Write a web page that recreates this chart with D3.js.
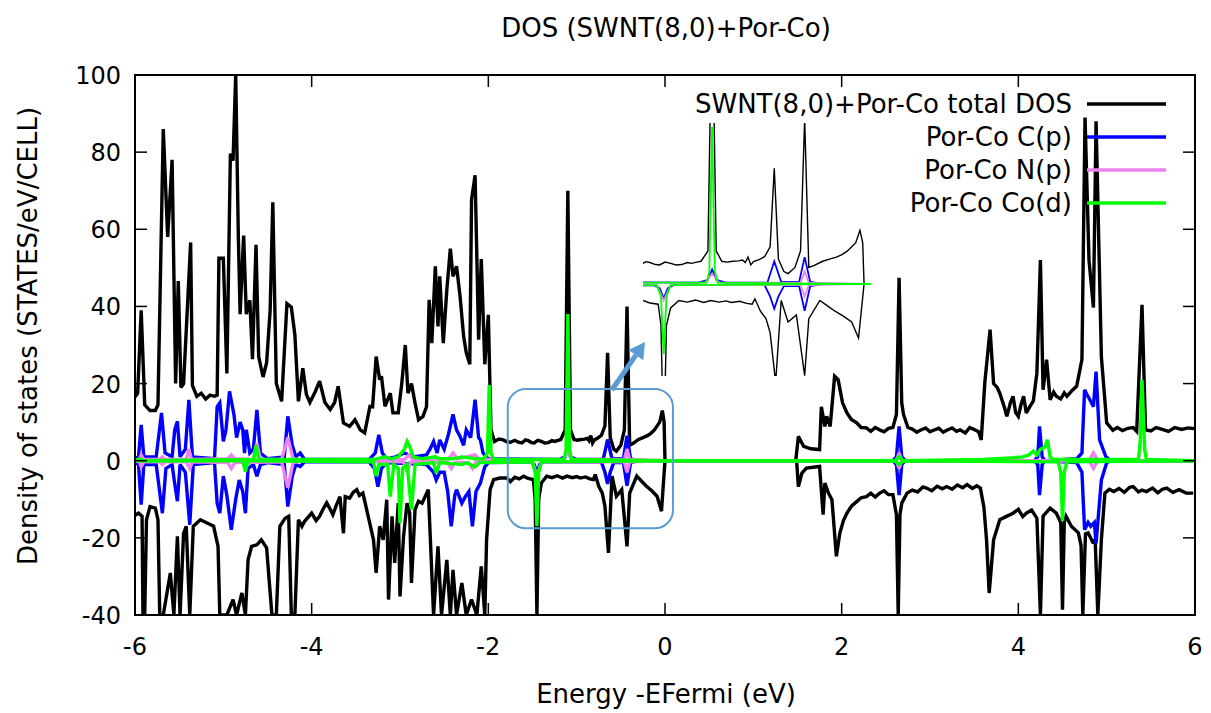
<!DOCTYPE html>
<html><head><meta charset="utf-8">
<script src="https://cdn.jsdelivr.net/npm/d3@7"></script>
<style>
body{margin:0;background:#fff;}
text{font-family:"DejaVu Sans",sans-serif;fill:#000;}
</style></head>
<body><svg id="c" width="1211" height="713"></svg>
<script>
const title = "DOS (SWNT(8,0)+Por-Co)";
const xLabel = "Energy -EFermi (eV)";
const yLabel = "Density of states (STATES/eV/CELL)";
const xTicks = [-6,-4,-2,0,2,4,6];
const yTicks = [-40,-20,0,20,40,60,80,100];
const seriesNames = ["SWNT(8,0)+Por-Co total DOS","Por-Co C(p)","Por-Co N(p)","Por-Co Co(d)"];
const seriesColors = ["#000000","#0000ff","#ee82ee","#00ff00"];

const totalUp = [[-6.00,16.5],[-5.97,17.5],[-5.93,39],[-5.89,14.5],[-5.83,13],[-5.77,13],[-5.74,14.5],[-5.68,86],[-5.63,58],[-5.58,78],[-5.54,20],[-5.51,46.6],[-5.48,19],[-5.45,20],[-5.37,56.6],[-5.35,19.5],[-5.30,16.7],[-5.25,17.5],[-5.20,16],[-5.15,17],[-5.10,16.7],[-5.07,17],[-5.05,52.5],[-5.00,52.5],[-4.96,22.6],[-4.92,79.6],[-4.89,77.8],[-4.86,100],[-4.83,58],[-4.81,38],[-4.77,58.4],[-4.74,38],[-4.70,41.6],[-4.67,26.3],[-4.63,56],[-4.60,27],[-4.55,21.7],[-4.51,25.4],[-4.47,39],[-4.44,67],[-4.40,20],[-4.34,15.4],[-4.28,40.7],[-4.23,39.8],[-4.19,32.6],[-4.15,15.4],[-4.10,24],[-4.06,17.2],[-4.02,15.1],[-3.96,17.9],[-3.91,20.6],[-3.85,15.1],[-3.79,13.3],[-3.74,15.1],[-3.70,19.3],[-3.64,9.8],[-3.57,8.9],[-3.51,10.6],[-3.45,8],[-3.40,7.2],[-3.34,14.1],[-3.31,14],[-3.27,27],[-3.23,21],[-3.21,21.9],[-3.17,14.1],[-3.11,17.5],[-3.08,12.4],[-3.02,12.4],[-2.98,20],[-2.94,30],[-2.91,17.5],[-2.87,20],[-2.83,15],[-2.79,10.6],[-2.74,11.5],[-2.70,14],[-2.67,41.7],[-2.64,30.5],[-2.60,50.4],[-2.57,34.8],[-2.55,47.8],[-2.51,30.5],[-2.47,44.3],[-2.43,55],[-2.40,47.8],[-2.36,50.4],[-2.32,42.6],[-2.28,32.3],[-2.25,28],[-2.21,25],[-2.19,67.7],[-2.15,74],[-2.11,31.4],[-2.08,52.3],[-2.04,25],[-2.00,37.8],[-1.97,8],[-1.93,5],[-1.88,5.6],[-1.83,5.4],[-1.79,4.9],[-1.75,4.8],[-1.70,5.3],[-1.66,4.8],[-1.62,4.6],[-1.58,5.4],[-1.55,5.2],[-1.51,4.7],[-1.48,4.6],[-1.44,5.3],[-1.40,5],[-1.36,4.6],[-1.32,4.7],[-1.28,5.2],[-1.25,5],[-1.21,5.3],[-1.18,5.5],[-1.13,8],[-1.10,70],[-1.07,8],[-1.03,5.5],[-0.99,5.3],[-0.95,5.5],[-0.91,5.6],[-0.88,5.8],[-0.86,5.2],[-0.84,6.5],[-0.82,4.6],[-0.80,5.4],[-0.76,5.9],[-0.72,6.6],[-0.68,9],[-0.65,28],[-0.62,6],[-0.58,3],[-0.55,2.5],[-0.50,4],[-0.46,8],[-0.43,40],[-0.40,4],[-0.36,4.5],[-0.30,5.5],[-0.25,6],[-0.20,6.5],[-0.16,7.1],[-0.12,8],[-0.06,10],[-0.03,13],[-0.01,10],[0.00,0],[1.48,0],[1.51,6.3],[1.57,3.7],[1.65,3.1],[1.75,2.9],[1.77,14],[1.81,8.9],[1.83,11.5],[1.87,8.9],[1.92,21.9],[1.96,21],[2.01,15],[2.06,12.4],[2.11,10.7],[2.17,9.8],[2.22,8.6],[2.28,8.5],[2.33,7.6],[2.38,8.6],[2.43,8],[2.48,7.5],[2.53,8.4],[2.58,8.6],[2.62,12],[2.65,47.4],[2.68,15],[2.70,12],[2.75,8.6],[2.80,8.2],[2.85,7.4],[2.89,7.9],[2.95,8.5],[3.00,7.5],[3.04,7.9],[3.10,8.4],[3.15,7.4],[3.19,7.9],[3.25,8.5],[3.30,7.6],[3.34,8],[3.40,7.2],[3.45,8.6],[3.49,8.2],[3.55,7.5],[3.58,5.4],[3.62,20.1],[3.68,34],[3.72,20],[3.76,19],[3.79,17.5],[3.84,14],[3.87,11.5],[3.91,15],[3.94,16.7],[3.97,12.5],[4.00,11.5],[4.03,14.5],[4.06,16.7],[4.09,12.4],[4.13,14],[4.17,15.5],[4.21,22.7],[4.25,52],[4.28,18.4],[4.32,26.2],[4.36,15.8],[4.40,17.8],[4.43,16.7],[4.48,16],[4.52,17.6],[4.55,16.7],[4.60,18],[4.66,19.3],[4.72,26.2],[4.755,89],[4.80,52],[4.85,39.7],[4.88,88],[4.94,27],[5.00,9.8],[5.07,7.9],[5.12,8.6],[5.18,7.8],[5.24,8.4],[5.30,8.6],[5.34,7.6],[5.40,40.4],[5.44,8],[5.50,7.7],[5.56,8.6],[5.62,8.2],[5.70,7.6],[5.77,8.6],[5.85,8.1],[5.92,8.5],[6.00,8.3]];

const totalDown = [[-6.02,-14.4],[-5.96,-13.6],[-5.92,-14.4],[-5.91,-40],[-5.89,-40],[-5.87,-15.3],[-5.83,-11.9],[-5.77,-12.3],[-5.74,-15.3],[-5.72,-40],[-5.68,-40],[-5.60,-29.1],[-5.56,-40],[-5.52,-19.6],[-5.49,-40],[-5.45,-18.8],[-5.42,-17],[-5.38,-40],[-5.34,-17],[-5.26,-15.3],[-5.19,-16.1],[-5.11,-17],[-5.06,-22.2],[-5.04,-40],[-4.96,-40],[-4.89,-36],[-4.85,-40],[-4.79,-34.3],[-4.75,-40],[-4.72,-25.7],[-4.68,-22.2],[-4.62,-21.8],[-4.57,-20.5],[-4.51,-22.6],[-4.45,-40],[-4.40,-40],[-4.36,-17],[-4.30,-14.9],[-4.26,-14.4],[-4.23,-40],[-4.19,-40],[-4.15,-15.3],[-4.11,-17],[-4.08,-15.7],[-4.00,-13.6],[-3.95,-15.5],[-3.91,-14.4],[-3.87,-12.5],[-3.83,-10.9],[-3.79,-12.6],[-3.76,-14],[-3.72,-11.5],[-3.68,-9.3],[-3.64,-18.8],[-3.62,-9.3],[-3.57,-9.7],[-3.53,-8.2],[-3.49,-7.5],[-3.46,-9],[-3.42,-8.4],[-3.36,-14.4],[-3.30,-20.5],[-3.27,-29.1],[-3.23,-17],[-3.19,-20.5],[-3.15,-10.1],[-3.13,-36],[-3.09,-14.4],[-3.06,-26.5],[-3.02,-11],[-3.00,-35.2],[-2.96,-19.6],[-2.92,-11],[-2.89,-13.6],[-2.87,-31.7],[-2.83,-12.7],[-2.79,-10.5],[-2.75,-11],[-2.71,-9],[-2.68,-7.5],[-2.62,-40],[-2.57,-22.2],[-2.53,-40],[-2.47,-25.7],[-2.43,-40],[-2.40,-28.3],[-2.36,-40],[-2.30,-31.7],[-2.25,-40],[-2.19,-36],[-2.13,-40],[-2.08,-27.4],[-2.04,-40],[-2.02,-20.5],[-1.98,-7.5],[-1.94,-4.9],[-1.87,-4.5],[-1.79,-4.5],[-1.75,-5.4],[-1.70,-4.3],[-1.65,-4.7],[-1.60,-4],[-1.55,-4.6],[-1.49,-4.9],[-1.47,-10],[-1.45,-40],[-1.43,-10],[-1.40,-5.8],[-1.34,-4],[-1.28,-4.4],[-1.22,-3.9],[-1.16,-4.5],[-1.11,-4],[-1.05,-4.4],[-1.00,-4.1],[-0.96,-4.5],[-0.90,-4.2],[-0.85,-4.7],[-0.81,-4.9],[-0.79,-3.6],[-0.75,-6.6],[-0.71,-8.4],[-0.68,-11.8],[-0.64,-23.9],[-0.60,-4],[-0.55,-9.2],[-0.49,-7.5],[-0.43,-22.2],[-0.40,-8.4],[-0.32,-4],[-0.27,-5.2],[-0.21,-6.6],[-0.15,-7.8],[-0.09,-9.2],[-0.04,-13.1],[0.00,0],[1.49,0],[1.51,-6.7],[1.55,-3.2],[1.60,-1.9],[1.75,-1.5],[1.79,-14],[1.81,-5.8],[1.85,-8.4],[1.89,-10.1],[1.94,-24.8],[1.98,-18.7],[2.02,-15.5],[2.06,-13.6],[2.11,-11.8],[2.17,-10.6],[2.22,-9.6],[2.28,-9.3],[2.33,-8.4],[2.38,-9.4],[2.43,-8.4],[2.48,-7.8],[2.53,-8.8],[2.58,-8.8],[2.62,-14],[2.64,-40],[2.66,-14],[2.68,-11],[2.74,-8.4],[2.80,-7.6],[2.86,-8.1],[2.92,-6.8],[2.96,-7.1],[3.02,-7.8],[3.08,-6.6],[3.14,-7.3],[3.19,-6.7],[3.25,-7.4],[3.31,-6.3],[3.37,-7],[3.42,-6.2],[3.48,-7.2],[3.53,-6.5],[3.57,-7.1],[3.61,-12],[3.64,-20.5],[3.67,-34.3],[3.72,-20.5],[3.79,-15.3],[3.86,-14.5],[3.94,-13.6],[4.00,-12.6],[4.05,-14.5],[4.09,-13.6],[4.15,-12.8],[4.21,-14.9],[4.25,-40],[4.28,-14.4],[4.36,-12.3],[4.43,-13.6],[4.48,-16],[4.50,-38.6],[4.52,-16],[4.54,-14.4],[4.60,-17],[4.68,-18.7],[4.71,-22],[4.73,-40],[4.76,-19],[4.79,-18.7],[4.84,-21],[4.87,-20.5],[4.90,-40],[4.94,-20.5],[4.98,-8.4],[5.03,-7.4],[5.08,-8],[5.14,-7.2],[5.20,-8.2],[5.26,-6.9],[5.30,-6.7],[5.36,-8.1],[5.40,-7.6],[5.45,-8],[5.52,-7.1],[5.58,-8.3],[5.63,-7.4],[5.68,-7.1],[5.75,-8.2],[5.82,-7.5],[5.90,-8.4],[5.98,-8.4]];

const cpUp = [[-6.0,0.5],[-5.96,1],[-5.93,9.3],[-5.90,1],[-5.76,1],[-5.70,12.4],[-5.66,2],[-5.58,1],[-5.55,8],[-5.52,10.2],[-5.49,1],[-5.43,3],[-5.39,15.8],[-5.35,1],[-5.10,0.5],[-5.07,14],[-5.04,15],[-5.00,5],[-4.97,8],[-4.93,18],[-4.88,12],[-4.85,6],[-4.81,10],[-4.78,8],[-4.76,2],[-4.74,8],[-4.70,2],[-4.66,3],[-4.62,13.2],[-4.58,2],[-4.50,0.5],[-4.31,1],[-4.27,11.5],[-4.22,4],[-4.18,1],[-4.13,2],[-4.08,0.3],[-3.35,0.3],[-3.28,2],[-3.24,6.7],[-3.20,2],[-3.15,0.5],[-3.05,1],[-2.95,2],[-2.85,1],[-2.70,1.5],[-2.66,3],[-2.62,5],[-2.58,2],[-2.55,5.4],[-2.50,3],[-2.45,7],[-2.40,12],[-2.36,8],[-2.32,6.3],[-2.28,4],[-2.25,8],[-2.20,6],[-2.15,15.8],[-2.11,6],[-2.09,5.4],[-2.06,2],[-2.00,0.5],[-1.20,0.3],[-1.13,1],[-1.10,3.5],[-1.07,1],[-1.00,0.3],[-0.70,0.3],[-0.65,5.5],[-0.60,0.5],[-0.47,0.5],[-0.43,6.5],[-0.39,0.5],[-0.30,0],[2.58,0],[2.62,1],[2.65,8.9],[2.68,1],[2.72,0],[4.18,0],[4.22,1],[4.24,8.9],[4.27,1],[4.30,0],[4.66,0.5],[4.72,2],[4.75,18.4],[4.78,17],[4.81,15.8],[4.85,14],[4.88,23.1],[4.92,5.4],[4.99,1.1],[5.05,0],[6.0,0]];

const cpDown = [[-6.0,-0.5],[-5.96,-1],[-5.93,-11.4],[-5.90,-1],[-5.76,-1],[-5.69,-13.6],[-5.65,-2],[-5.58,-1],[-5.55,-6],[-5.52,-10.5],[-5.49,-1],[-5.43,-3],[-5.38,-16.6],[-5.34,-1],[-5.10,-0.5],[-5.07,-11],[-5.04,-13.6],[-5.00,-4],[-4.96,-9],[-4.91,-17.9],[-4.86,-10],[-4.82,-5],[-4.78,-8],[-4.75,-13.6],[-4.72,-2],[-4.66,-1],[-4.62,-4],[-4.58,-1],[-4.50,-0.5],[-4.31,-1],[-4.27,-11.9],[-4.22,-4],[-4.18,-1],[-4.13,-1.5],[-4.08,-0.3],[-3.35,-0.3],[-3.29,-2],[-3.25,-6.7],[-3.21,-2],[-3.15,-0.5],[-2.70,-1],[-2.62,-3],[-2.59,-5],[-2.55,-3],[-2.50,-3],[-2.46,-8],[-2.42,-17],[-2.38,-9],[-2.36,-7.5],[-2.30,-11],[-2.26,-9.3],[-2.22,-8],[-2.18,-17],[-2.14,-8],[-2.09,-5.8],[-2.04,-1.6],[-2.00,-0.5],[-1.52,-0.3],[-1.48,-1],[-1.45,-3.5],[-1.42,-1],[-1.38,-0.3],[-0.72,-0.3],[-0.68,-3],[-0.65,-6],[-0.62,-3],[-0.58,-0.5],[-0.47,-0.5],[-0.43,-6.5],[-0.39,-0.5],[-0.30,0],[2.58,0],[2.62,-1],[2.65,-8.9],[2.68,-1],[2.72,0],[4.18,0],[4.22,-1],[4.24,-8.9],[4.27,-1],[4.30,0],[4.66,-0.5],[4.72,-3],[4.75,-17.9],[4.79,-16],[4.82,-17],[4.86,-16],[4.88,-21.4],[4.94,-5],[5.00,-0.5],[5.05,0],[6.0,0]];

const npUp = [[-6,0],[-5.95,0.3],[-5.93,1.5],[-5.90,0.3],[-5.72,0.3],[-5.69,1],[-5.66,0.3],[-5.42,0.3],[-5.39,3],[-5.36,0.3],[-4.95,0.5],[-4.91,1.5],[-4.87,0.5],[-4.66,0.3],[-4.62,4.5],[-4.58,0.3],[-4.34,0.3],[-4.27,6],[-4.21,0.5],[-4.10,0],[-2.95,0.3],[-2.90,1.5],[-2.85,0.3],[-2.45,0.5],[-2.40,2],[-2.35,0.5],[-2.15,1.5],[-2.10,0.3],[-1.15,0.3],[-1.10,2.5],[-1.05,0.3],[-0.46,0.3],[-0.43,3],[-0.40,0.3],[0,0],[2.62,0],[2.65,2],[2.68,0],[4.80,0],[4.85,2],[4.90,0],[6,0]];

const npDown = [[-6,0],[-5.95,-0.3],[-5.93,-1.5],[-5.90,-0.3],[-5.72,-0.3],[-5.69,-1],[-5.66,-0.3],[-5.42,-0.3],[-5.38,-2],[-5.35,-0.3],[-4.95,-0.5],[-4.91,-2],[-4.87,-0.5],[-4.34,-0.3],[-4.27,-7],[-4.21,-0.5],[-4.10,0],[-2.96,-0.3],[-2.92,-3],[-2.88,-0.3],[-2.46,-0.5],[-2.42,-2],[-2.38,-0.5],[-2.22,-0.5],[-2.18,-2],[-2.14,-0.3],[-1.50,-0.3],[-1.45,-4],[-1.40,-0.3],[-0.46,-0.3],[-0.43,-3],[-0.40,-0.3],[0,0],[2.62,0],[2.65,-2],[2.68,0],[4.80,0],[4.85,-2],[4.90,0],[6,0]];

const coUp = [[-6,0],[-5.95,0.5],[-5.90,0],[-4.66,0.3],[-4.63,4],[-4.60,0.3],[-3.30,0.3],[-3.17,1],[-3.10,0.5],[-3.02,1],[-2.95,3],[-2.92,5],[-2.89,3.7],[-2.85,1],[-2.75,0.5],[-2.60,1],[-2.55,0.5],[-2.40,0.5],[-2.30,1],[-2.15,0.5],[-2.05,0.5],[-2.01,2],[-1.99,19.6],[-1.97,2],[-1.94,0.3],[-1.14,0.3],[-1.12,3],[-1.10,38],[-1.08,3],[-1.06,0.3],[0,0],[2.60,0],[2.65,1],[2.70,0],[3.60,0.3],[3.80,0.6],[3.95,0.8],[4.05,1],[4.12,1.5],[4.17,2.5],[4.21,1.5],[4.25,3],[4.30,3.5],[4.33,5.4],[4.36,1],[4.40,0.3],[5.36,0.3],[5.38,5],[5.40,21],[5.43,3],[5.45,0.3],[6,0]];

const coDown = [[-6,0],[-4.78,0],[-4.75,-2.8],[-4.72,0],[-3.30,-0.3],[-3.27,-4],[-3.24,-1],[-3.14,-1],[-3.11,-9.3],[-3.07,-1],[-3.02,-2],[-3.00,-16.2],[-2.97,-2],[-2.92,-1],[-2.87,-12.7],[-2.83,-1],[-2.62,-0.5],[-2.59,-3.2],[-2.55,-0.5],[-2.30,-1],[-2.25,-0.5],[-2.15,-1.6],[-2.10,-0.5],[-1.50,-0.3],[-1.47,-3],[-1.45,-17],[-1.43,-3],[-1.40,-0.3],[0,0],[2.60,0],[2.65,-1],[2.70,0],[4.45,-0.3],[4.48,-3],[4.50,-15.6],[4.52,-3],[4.55,-0.3],[6,0]];

const zoomRange = [-1.78, 0.09];   // energy window of the highlighted box
const zoomValRange = [-17.5, 18.6];
const insetXDomain = [-1.6, 0.04];
const insetYDomain = [-22.3, 39];

const svg = d3.select("#c");
const W = 1211, H = 713;
const P = {l:135, r:1195, t:75, b:615};
const x = d3.scaleLinear().domain([-6,6]).range([P.l,P.r]);
const y = d3.scaleLinear().domain([-40,100]).range([P.b,P.t]);

svg.append("rect").attr("width",W).attr("height",H).attr("fill","#fff");

const defs = svg.append("defs");
defs.append("clipPath").attr("id","plotClip").append("rect")
  .attr("x",P.l).attr("y",P.t).attr("width",P.r-P.l).attr("height",P.b-P.t);

const FS = "26px", TFS = "24px";
// title and labels
svg.append("text").attr("x",666).attr("y",37).attr("text-anchor","middle")
  .style("font-size",FS).text(title);
svg.append("text").attr("x",666).attr("y",703).attr("text-anchor","middle")
  .style("font-size",FS).text(xLabel);
svg.append("text").attr("transform",`translate(37,${336}) rotate(-90)`)
  .attr("text-anchor","middle").style("font-size",FS).text(yLabel);

// tick labels
svg.append("g").selectAll("text").data(yTicks).join("text")
  .attr("x",P.l-14).attr("y",d=>y(d)+9).attr("text-anchor","end")
  .style("font-size",TFS).text(d=>d);
svg.append("g").selectAll("text").data(xTicks).join("text")
  .attr("x",d=>x(d)).attr("y",P.b+40).attr("text-anchor","middle")
  .style("font-size",TFS).text(d=>d);

// data lines
const plot = svg.append("g").attr("clip-path","url(#plotClip)");
const line = d3.line().x(d=>x(d[0])).y(d=>y(d[1]));
const layers = [[totalUp,totalDown],[cpUp,cpDown],[npUp,npDown],[coUp,coDown]];
layers.forEach((pair,i)=>{
  pair.forEach(arr=>{
    plot.append("path").attr("d",line(arr)).attr("fill","none")
      .attr("stroke",seriesColors[i]).attr("stroke-width",3.4)
      .attr("stroke-linejoin","miter").attr("stroke-miterlimit",3);
  });
});

// ticks (inward, mirrored)
const tk = svg.append("g").attr("stroke","#000").attr("stroke-width",1.5);
xTicks.forEach(t=>{
  tk.append("line").attr("x1",x(t)).attr("x2",x(t)).attr("y1",P.b).attr("y2",P.b-12);
  tk.append("line").attr("x1",x(t)).attr("x2",x(t)).attr("y1",P.t).attr("y2",P.t+12);
});
yTicks.forEach(t=>{
  tk.append("line").attr("x1",P.l).attr("x2",P.l+12).attr("y1",y(t)).attr("y2",y(t));
  tk.append("line").attr("x1",P.r).attr("x2",P.r-12).attr("y1",y(t)).attr("y2",y(t));
});
svg.append("rect").attr("x",P.l).attr("y",P.t).attr("width",P.r-P.l).attr("height",P.b-P.t)
  .attr("fill","none").attr("stroke","#000").attr("stroke-width",2);

// legend
const lg = svg.append("g");
seriesNames.forEach((n,i)=>{
  const yy = 104 + i*33;
  lg.append("text").attr("x",1072).attr("y",yy+9).attr("text-anchor","end")
    .style("font-size",FS).text(n);
  lg.append("line").attr("x1",1087).attr("x2",1166).attr("y1",yy).attr("y2",yy)
    .attr("stroke",seriesColors[i]).attr("stroke-width",3.4);
});

// highlight box
const boxC = "#5b9bd5";
const bx0 = x(zoomRange[0]), bx1 = x(zoomRange[1]);
const by0 = y(zoomValRange[1]), by1 = y(zoomValRange[0]);
svg.append("rect").attr("x",bx0).attr("y",by0).attr("width",bx1-bx0).attr("height",by1-by0)
  .attr("rx",18).attr("ry",18).attr("fill","none").attr("stroke",boxC).attr("stroke-width",2);

// inset
const xi = d3.scaleLinear().domain(insetXDomain).range([643,869.6]);
const yi = d3.scaleLinear().domain(insetYDomain).range([376,123]);
defs.append("clipPath").attr("id","insetClip").append("rect")
  .attr("x",643).attr("y",123).attr("width",228).attr("height",253);
const ig = svg.append("g").attr("clip-path","url(#insetClip)");
const iline = d3.line().x(d=>xi(d[0])).y(d=>yi(d[1]));
layers.forEach((pair,i)=>{
  pair.forEach(arr=>{
    ig.append("path").attr("d",iline(arr)).attr("fill","none")
      .attr("stroke",seriesColors[i]).attr("stroke-width",i===0?1.4:1.8);
  });
});

// arrow
const ax0 = bx0 + (bx1-bx0)*0.63, ay0 = by0+1;
const ax1 = 645, ay1 = 342;
const dx = ax1-ax0, dy = ay1-ay0, L = Math.hypot(dx,dy), ux = dx/L, uy = dy/L;
const hb = [ax1-16*ux, ay1-16*uy];
svg.append("line").attr("x1",ax0).attr("y1",ay0).attr("x2",hb[0]).attr("y2",hb[1])
  .attr("stroke",boxC).attr("stroke-width",5);
svg.append("polygon").attr("fill",boxC)
  .attr("points",[[ax1,ay1],[hb[0]-9*uy,hb[1]+9*ux],[hb[0]+9*uy,hb[1]-9*ux]].map(p=>p.join(",")).join(" "));
</script></body></html>
